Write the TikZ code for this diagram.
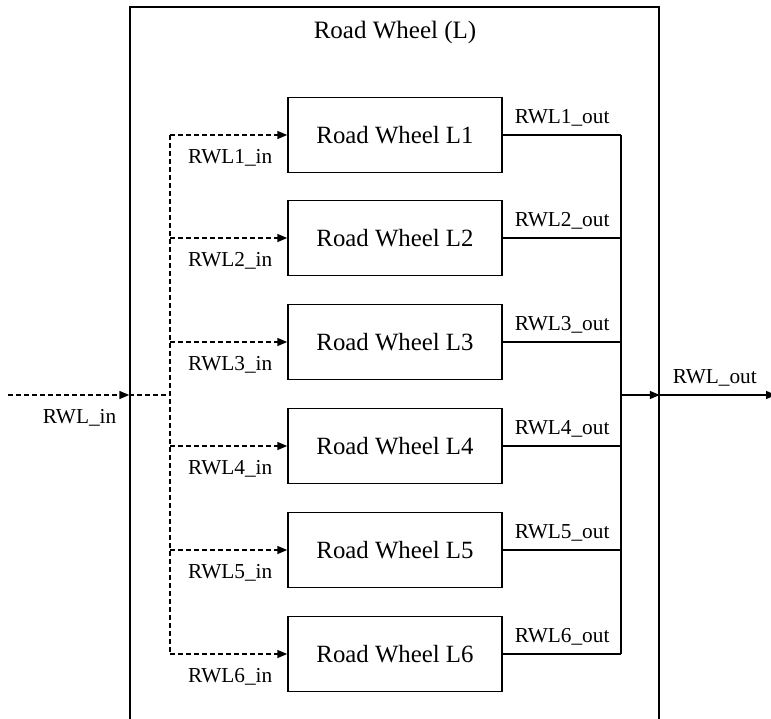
\documentclass[tikz,border=0pt]{standalone}
\usepackage{fontspec}
\setmainfont{Liberation Serif}
\usetikzlibrary{arrows.meta}
\begin{document}
\begin{tikzpicture}[x=1pt,y=-1pt,line width=1.5pt,
  wheel/.style={draw,minimum width=214pt,minimum height=75pt,inner sep=0pt,font=\fontsize{24.8}{27}\selectfont},
  lbl/.style={inner sep=0pt,font=\fontsize{21.3}{24}\selectfont},
  sig/.style={dash pattern=on 5pt off 3pt},
  tip/.style={-{Triangle[length=10pt,width=8pt]}}]
\useasboundingbox (0,0) rectangle (771,718);
\node[draw,minimum width=529pt,minimum height=723pt,inner sep=0pt] (outer) at (394.5,368.5) {};
\node[lbl,anchor=base,font=\fontsize{25}{27}\selectfont] (title) at (395,38.5) {Road Wheel (L)};
\foreach \i in {1,...,6} {
  \pgfmathsetmacro{\yy}{round(134.5+103.9*(\i-1))}
  \node[wheel] (w\i) at (395,\yy) {Road Wheel L\i};
  \coordinate (in\i) at (170,\yy);
  \coordinate (out\i) at (621,\yy);
  \draw[sig,tip] (in\i) -- (w\i.west);
  \draw (w\i.east) -- (out\i);
  \node[lbl,anchor=base east] (inl\i) at (273,\yy+28) {RWL\i\_in};
  \node[lbl,anchor=base west] (outl\i) at (514,\yy-12) {RWL\i\_out};
}
\draw[sig] (in1) -- (in6);
\draw (out1) -- (out6);
\coordinate (rin) at (8,395);
\coordinate (split) at (170,395);
\coordinate (join) at (621,395);
\coordinate (rout) at (776,395);
\draw[sig,tip] (rin) -- (outer.west |- rin);
\draw[sig] (outer.west |- rin) -- (split);
\draw[tip] (join) -- (outer.east |- join);
\draw[tip] (outer.east |- join) -- (rout);
\node[lbl,anchor=base east] (rinl) at (117,423) {RWL\_in};
\node[lbl,anchor=base west] (routl) at (672,383) {RWL\_out};
\end{tikzpicture}
\end{document}
